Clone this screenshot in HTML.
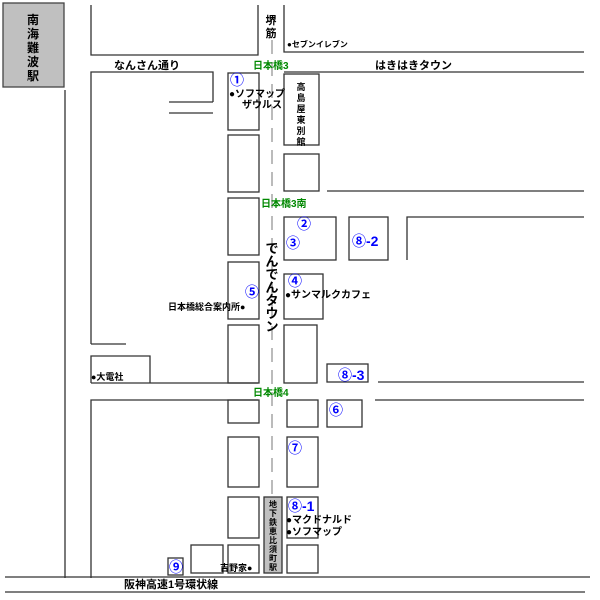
<!DOCTYPE html>
<html><head><meta charset="utf-8"><style>
body{margin:0;background:#fff}
svg{display:block}
text{font-family:"Liberation Sans","Noto Sans CJK JP",sans-serif;font-weight:bold}
.n{fill:#00f;font-size:14px;font-weight:bold}
</style></head><body>
<svg width="600" height="600" viewBox="0 0 600 600" xmlns="http://www.w3.org/2000/svg">
<g stroke="#333" stroke-width="1.3" fill="none">
<rect x="3" y="3" width="61" height="84" fill="#c0c0c0" stroke="#444"/>
<path d="M91 5V55H258V5"/>
<path d="M284 5V52H584"/>
<path d="M65 90V578"/>
<path d="M91 344V72H213V102"/>
<path d="M91 344H126"/>
<path d="M169 102H213M169 113H213"/>
<path d="M284 72H584"/>
<rect x="228" y="73" width="31" height="57"/>
<rect x="228" y="135" width="31" height="57"/>
<rect x="228" y="198" width="31" height="57"/>
<rect x="228" y="262" width="31" height="57"/>
<rect x="228" y="325" width="31" height="58"/>
<rect x="284" y="74" width="35" height="71"/>
<rect x="284" y="154" width="35" height="37"/>
<path d="M327 191H584"/>
<rect x="284" y="217" width="52" height="43"/>
<rect x="349" y="217" width="39" height="43"/>
<path d="M407 260V217H584"/>
<rect x="284" y="274" width="39" height="45"/>
<rect x="284" y="325" width="33" height="58"/>
<rect x="327" y="364" width="41" height="18"/>
<path d="M378 382H584"/>
<path d="M91 383V356H150V383M91 383H258"/>
<path d="M91 578V400H258"/>
<path d="M375 400H584"/>
<rect x="228" y="400" width="31" height="23"/>
<rect x="287" y="400" width="31" height="27"/>
<rect x="327" y="400" width="35" height="27"/>
<rect x="228" y="437" width="31" height="50"/>
<rect x="287" y="437" width="31" height="50"/>
<rect x="228" y="497" width="31" height="41"/>
<rect x="287" y="497" width="31" height="41"/>
<rect x="168" y="558" width="15" height="17"/>
<rect x="191" y="545" width="32" height="28"/>
<rect x="228" y="545" width="31" height="28"/>
<rect x="287" y="545" width="31" height="28"/>
<rect x="264" y="497" width="18" height="76" fill="#c0c0c0"/>
<path d="M5 577H590M5 592H585"/>
</g>
<path d="M272 40V545" stroke="#bbb" stroke-width="2" stroke-dasharray="14,8"/>
<g font-size="10" fill="#000">
<g font-size="12" text-anchor="middle"><text x="33" y="24">南</text><text x="33" y="38">海</text><text x="33" y="52">難</text><text x="33" y="66">波</text><text x="33" y="80">駅</text></g>
<text x="271" y="24" text-anchor="middle" font-size="11">堺</text>
<text x="271" y="37" text-anchor="middle" font-size="11">筋</text>
<text x="287" y="47" font-size="8">●セブンイレブン</text>
<text x="114" y="69" font-size="11">なんさん通り</text>
<text x="253" y="69" fill="#080">日本橋3</text>
<text x="375" y="69" font-size="11">はきはきタウン</text>
<text x="230" y="85" class="n">①</text>
<text x="229" y="97" font-size="10">●ソフマップ</text>
<text x="242" y="108" font-size="10">ザウルス</text>
<g font-size="9" text-anchor="middle"><text x="301" y="90">高</text><text x="301" y="101">島</text><text x="301" y="112">屋</text><text x="301" y="123">東</text><text x="301" y="134">別</text><text x="301" y="145">館</text></g>
<text x="261" y="207" fill="#080">日本橋3南</text>
<text x="297" y="229" class="n">②</text>
<text x="286" y="248" class="n">③</text>
<text x="352" y="246" class="n">⑧-2</text>
<text x="288" y="286" class="n">④</text>
<text x="285" y="298" font-size="10">●サンマルクカフェ</text>
<text x="245" y="297" class="n">⑤</text>
<text x="168" y="310" font-size="9">日本橋総合案内所●</text>
<g font-size="13" text-anchor="middle" font-weight="normal"><text x="272" y="253">で</text><text x="272" y="266">ん</text><text x="272" y="279">で</text><text x="272" y="292">ん</text><text x="272" y="305">タ</text><text x="272" y="318">ウ</text><text x="272" y="331">ン</text></g>
<text x="91" y="380" font-size="9">●大電社</text>
<text x="338" y="380" class="n">⑧-3</text>
<text x="253" y="396" fill="#080">日本橋4</text>
<text x="329" y="415" class="n">⑥</text>
<text x="288" y="453" class="n">⑦</text>
<text x="288" y="511" class="n">⑧-1</text>
<text x="286" y="523" font-size="10">●マクドナルド</text>
<text x="286" y="535" font-size="10">●ソフマップ</text>
<g font-size="8" text-anchor="middle"><text x="273" y="507">地</text><text x="273" y="516">下</text><text x="273" y="525">鉄</text><text x="273" y="534">恵</text><text x="273" y="543">比</text><text x="273" y="552">須</text><text x="273" y="561">町</text><text x="273" y="570">駅</text></g>
<text x="169" y="572" class="n">⑨</text>
<text x="220" y="571" font-size="9">吉野家●</text>
<text x="124" y="588" font-size="11">阪神高速1号環状線</text>
</g>
</svg>
</body></html>
